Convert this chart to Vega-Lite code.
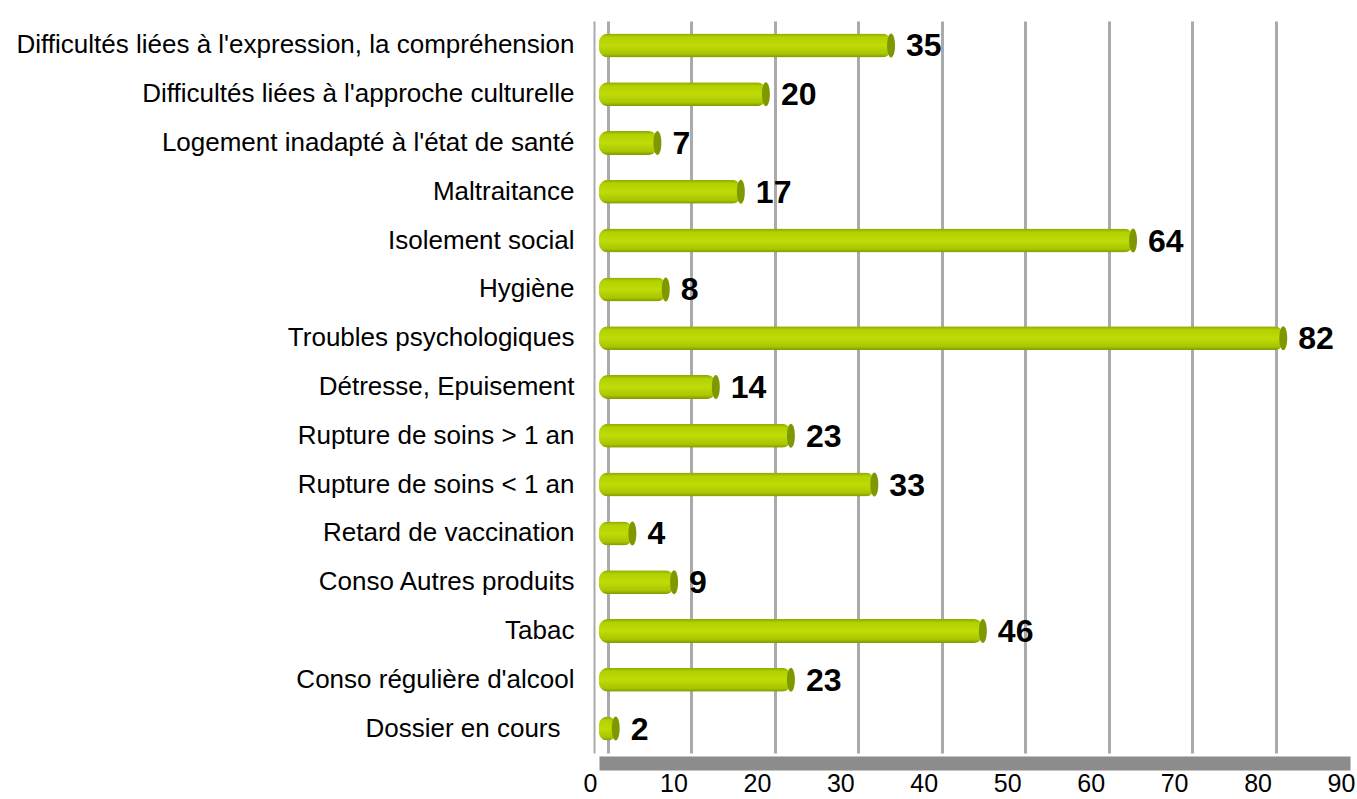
{
  "$schema": "https://vega.github.io/schema/vega-lite/v6.json",
  "autosize": {"type": "none"},
  "padding": {"left": 599, "top": 21, "right": 7, "bottom": 46},
  "width": 751,
  "height": 732,
  "background": "white",
  "config": {"view": {"stroke": null}, "font": "Liberation Sans"},
  "data": {"values": [
    {"cat": "Difficultés liées à l'expression, la compréhension", "v": 35},
    {"cat": "Difficultés liées à l'approche culturelle", "v": 20},
    {"cat": "Logement inadapté à l'état de santé", "v": 7},
    {"cat": "Maltraitance", "v": 17},
    {"cat": "Isolement social", "v": 64},
    {"cat": "Hygiène", "v": 8},
    {"cat": "Troubles psychologiques", "v": 82},
    {"cat": "Détresse, Epuisement", "v": 14},
    {"cat": "Rupture de soins > 1 an", "v": 23},
    {"cat": "Rupture de soins < 1 an", "v": 33},
    {"cat": "Retard de vaccination", "v": 4},
    {"cat": "Conso Autres produits", "v": 9},
    {"cat": "Tabac", "v": 46},
    {"cat": "Conso régulière d'alcool", "v": 23},
    {"cat": "Dossier en cours", "v": 2}
  ]},
  "encoding": {
    "y": {"field": "cat", "type": "nominal", "sort": null,
      "scale": {"paddingInner": 0.5, "paddingOuter": 0.25},
      "axis": {"title": null, "ticks": false, "domain": true, "domainColor": "#aaaaaa", "domainWidth": 2, "offset": 5,
        "labelFontSize": 26, "labelColor": "#000000",
        "labelPadding": {"condition": {"test": "datum.value === 'Dossier en cours'", "value": 34}, "value": 20},
        "labelLimit": 700, "labelFont": "Liberation Sans"}},
    "x": {"field": "v", "type": "quantitative",
      "scale": {"domain": [0, 90], "nice": false},
      "axis": {"title": null, "values": [0,10,20,30,40,50,60,70,80,90], "ticks": false, "grid": true, "gridColor": "#aaaaaa", "gridWidth": 3,
        "tickOffset": 9, "labelOffset": -18, "domain": true, "domainColor": "#8c8c8c", "domainWidth": 14, "offset": 10,
        "labelFontSize": 25, "labelColor": "#000000", "labelPadding": 8, "labelFont": "Liberation Sans", "labelFlush": false}}
  },
  "layer": [
    {"mark": {"type": "bar", "size": 24, "cornerRadius": 9,
      "color": {"gradient": "linear", "x1": 0, "y1": 0, "x2": 0, "y2": 1,
        "stops": [
          {"offset": 0, "color": "#8ea600"},
          {"offset": 0.15, "color": "#b3d000"},
          {"offset": 0.5, "color": "#bfdc08"},
          {"offset": 0.85, "color": "#a9c500"},
          {"offset": 1, "color": "#809600"}
        ]}}},
    {"mark": {"type": "point", "filled": true, "opacity": 1, "size": 576, "color": "#7f9800", "strokeWidth": 0,
      "shape": "M0,-1 A0.33,1 0 1,1 0,1 A0.33,1 0 1,1 0,-1 Z"}},
    {"mark": {"type": "text", "align": "left", "baseline": "middle", "dx": 15, "dy": 1, "fontSize": 32, "fontWeight": "bold", "color": "#000000", "font": "Liberation Sans"},
      "encoding": {"text": {"field": "v", "type": "quantitative"}}}
  ]
}
